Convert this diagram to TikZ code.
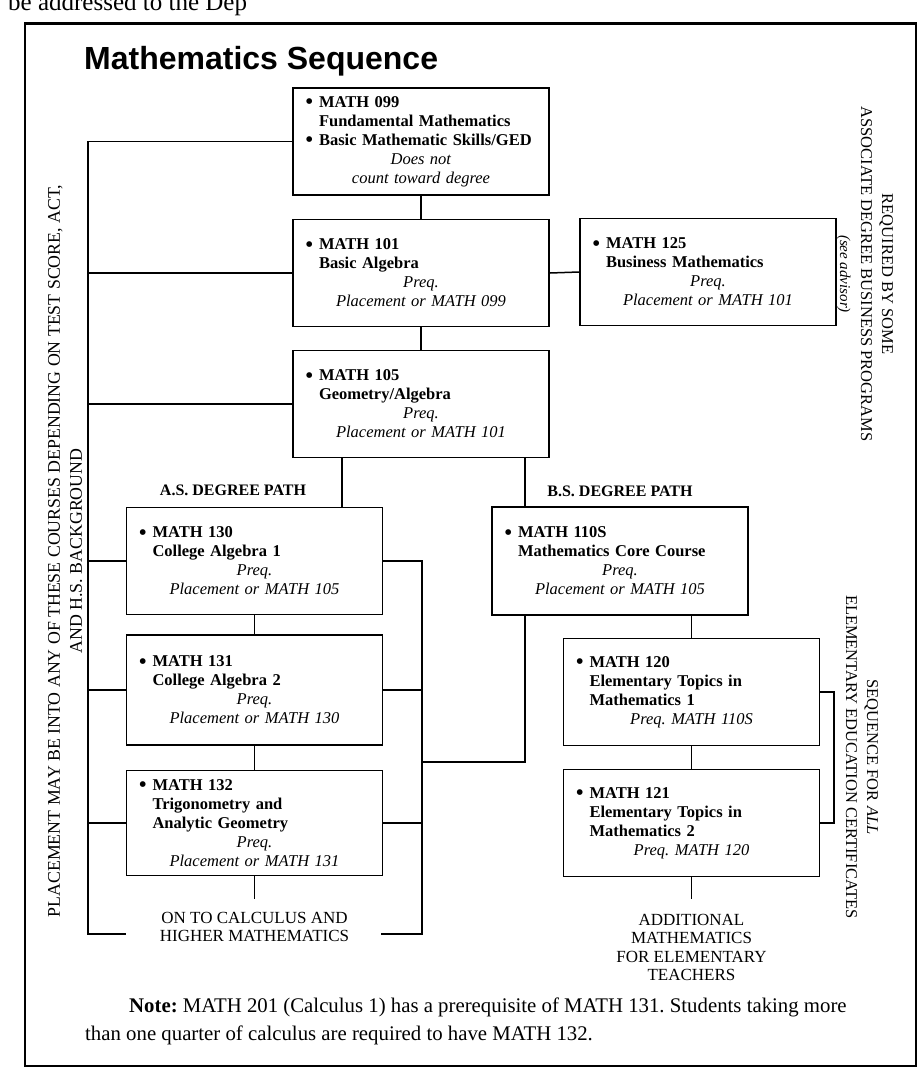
\documentclass[tikz,border=0pt]{standalone}
\usepackage{fontspec}
\setmainfont{Liberation Serif}
\newfontfamily\titlefont{Liberation Sans}
\frenchspacing
\newcommand\bul[1]{\makebox[14pt][l]{\raisebox{-2.5pt}{\fontsize{24}{19}\selectfont\textbullet}}\textbf{#1}}
\newcommand\ind[1]{\hspace*{14pt}\textbf{#1}}
\newcommand\ctr[1]{\makebox[\linewidth][c]{\textit{#1}}}
\begin{document}
\begin{tikzpicture}[x=1pt,y=-1pt,
  box/.style={draw, line width=1.8pt, minimum width=256pt, minimum height=107pt,
    text width=232pt, inner xsep=11pt, inner ysep=0pt, align=left,
    font=\fontsize{16.5}{19}\selectfont\frenchspacing},
  conn/.style={line width=1.5pt},
  caps/.style={font=\fontsize{17}{18.5}\selectfont, align=center, inner sep=0pt},
  side/.style={font=\fontsize{16.5}{21}\selectfont, align=center, inner sep=0pt},
  pathlabel/.style={font=\bfseries\fontsize{16}{18}\selectfont\frenchspacing, inner sep=0pt}]
\useasboundingbox (0,0) rectangle (922,1079);

% page fragment and frame
\node[anchor=base west, inner sep=0pt, font=\fontsize{25}{25}\selectfont] (frag) at (8,10) {be addressed to the Dep};
\draw[line width=2.4pt] (25,23.5) rectangle (916,1066);

% title
\node[anchor=base west, inner sep=0pt, font=\titlefont\bfseries\fontsize{32}{32}\selectfont] (title) at (84,69) {Mathematics Sequence};

% course boxes
\node[box] (b099) at (421,141.5) {\bul{MATH 099}\\\ind{Fundamental Mathematics}\\\bul{Basic Mathematic Skills/GED}\\\ctr{Does not}\\\ctr{count toward degree}};
\node[box] (b101) at (421,273) {\bul{MATH 101}\\\ind{Basic Algebra}\\\ctr{Preq.}\\\ctr{Placement or MATH 099}};
\node[box] (b125) at (708,272) {\bul{MATH 125}\\\ind{Business Mathematics}\\\ctr{Preq.}\\\ctr{Placement or MATH 101}};
\node[box] (b105) at (421,404) {\bul{MATH 105}\\\ind{Geometry/Algebra}\\\ctr{Preq.}\\\ctr{Placement or MATH 101}};
\node[box] (b130) at (254.5,561) {\bul{MATH 130}\\\ind{College Algebra 1}\\\ctr{Preq.}\\\ctr{Placement or MATH 105}};
\node[box, minimum height=110pt] (b131) at (254.5,690) {\bul{MATH 131}\\\ind{College Algebra 2}\\\ctr{Preq.}\\\ctr{Placement or MATH 130}};
\node[box, minimum height=105pt] (b132) at (254.5,823) {\bul{MATH 132}\\\ind{Trigonometry and}\\\ind{Analytic Geometry}\\\ctr{Preq.}\\\ctr{Placement or MATH 131}};
\node[box, minimum height=108pt] (b110) at (620,561) {\bul{MATH 110S}\\\ind{Mathematics Core Course}\\\ctr{Preq.}\\\ctr{Placement or MATH 105}};
\node[box] (b120) at (691.5,692) {\bul{MATH 120}\\\ind{Elementary Topics in}\\\ind{Mathematics 1}\\\ctr{Preq. MATH 110S}};
\node[box] (b121) at (691.5,823) {\bul{MATH 121}\\\ind{Elementary Topics in}\\\ind{Mathematics 2}\\\ctr{Preq. MATH 120}};

% labels
\node[pathlabel] (as) at (233,490) {A.S. DEGREE PATH};
\node[pathlabel] (bs) at (620,491) {B.S. DEGREE PATH};
\node[caps, anchor=north] (calc) at (254.5,912) {ON TO CALCULUS AND\\HIGHER MATHEMATICS};
\node[caps, anchor=north] (addl) at (691.5,914) {ADDITIONAL\\MATHEMATICS\\FOR ELEMENTARY\\TEACHERS};
\node[side, rotate=-90] (req) at (865,274) {REQUIRED BY SOME\\ASSOCIATE DEGREE BUSINESS PROGRAMS\\{\fontsize{15}{15}\selectfont\itshape (see advisor)}};
\node[side, rotate=-90] (elem) at (862,757) {SEQUENCE FOR \textit{ALL}\\ELEMENTARY EDUCATION CERTIFICATES};
\node[side, rotate=90, font=\fontsize{17.8}{22}\selectfont\frenchspacing] (place) at (65,551) {PLACEMENT MAY BE INTO ANY OF THESE COURSES DEPENDING ON TEST SCORE, ACT,\\AND H.S. BACKGROUND};

% note
\node[anchor=north west, inner sep=0pt, align=left, font=\fontsize{20.8}{28}\selectfont] (note) at (85,998) {\hspace*{44pt}\textbf{Note:} MATH 201 (Calculus 1) has a prerequisite of MATH 131. Students taking more\\than one quarter of calculus are required to have MATH 132.};

% helper coordinates
\coordinate (lx) at (88,0);
\coordinate (lstub) at (126,934);
\coordinate (rbx) at (422,0);
\coordinate (rstub) at (381,934);
\coordinate (xas) at (342,0);
\coordinate (link) at (525,762);
\coordinate (ex) at (834,0);

% central column
\draw[conn] (b099.south) -- (b101.north);
\draw[conn] (b101.south) -- (b105.north);
\draw[conn] (b101.east) -- (b125.west);
\draw[conn] (b105.south -| xas) -- (b130.north -| xas);
\draw[conn] (b105.south -| link) -- (b110.north -| link);

% left placement bracket
\draw[conn] (b099.west) -- (b099.west -| lx) -- (lx |- lstub) -- (lstub);
\draw[conn] (b101.west) -- (b101.west -| lx);
\draw[conn] (b105.west) -- (b105.west -| lx);
\draw[conn] (b130.west) -- (b130.west -| lx);
\draw[conn] (b131.west) -- (b131.west -| lx);
\draw[conn] (b132.west) -- (b132.west -| lx);

% A.S. column
\draw[conn] (b130.south) -- (b131.north);
\draw[conn] (b131.south) -- (b132.north);
\draw[conn] (b132.south) -- ([yshift=13pt]calc.north);
\draw[conn] (b130.east) -- (b130.east -| rbx) -- (rbx |- rstub) -- (rstub);
\draw[conn] (b131.east) -- (b131.east -| rbx);
\draw[conn] (b132.east) -- (b132.east -| rbx);
\draw[conn] (b110.south -| link) -- (link) -- (link -| rbx);

% B.S. column
\draw[conn] (b110.south -| b120.north) -- (b120.north);
\draw[conn] (b120.south) -- (b121.north);
\draw[conn] (b121.south) -- ([yshift=15pt]addl.north);
\draw[conn] (b120.east) -- (b120.east -| ex) -- (ex |- b121.east) -- (b121.east);
\end{tikzpicture}
\end{document}
